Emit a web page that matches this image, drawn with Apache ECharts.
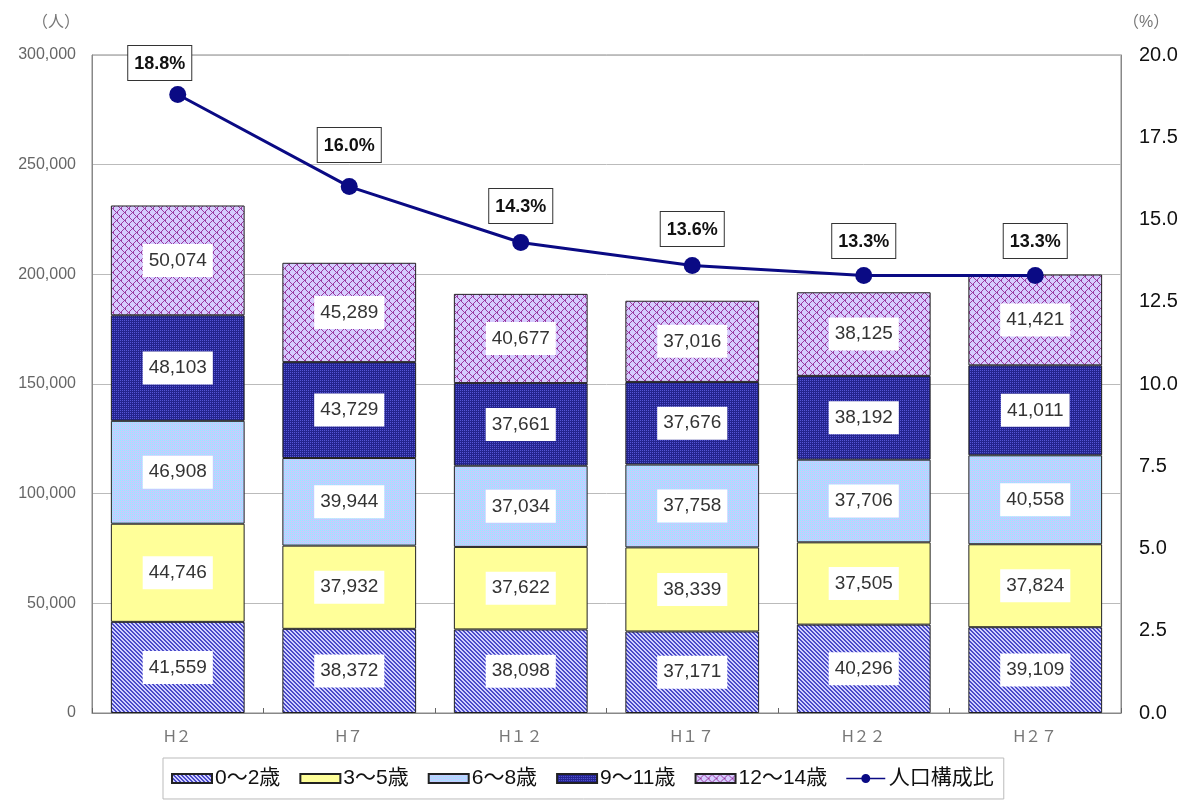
<!DOCTYPE html>
<html>
<head>
<meta charset="utf-8">
<script src="https://cdn.jsdelivr.net/npm/echarts@6/dist/echarts.min.js"></script>
<style>
  html, body { margin: 0; padding: 0; background: #fff; }
  #chart { width: 1186px; height: 805px; }
</style>
</head>
<body>
<div id="chart"></div>
<script>
const years = ['H２', 'H７', 'H１２', 'H１７', 'H２２', 'H２７'];
const age0to2 = [41559, 38372, 38098, 37171, 40296, 39109];
const age3to5 = [44746, 37932, 37622, 38339, 37505, 37824];
const age6to8 = [46908, 39944, 37034, 37758, 37706, 40558];
const age9to11 = [48103, 43729, 37661, 37676, 38192, 41011];
const age12to14 = [50074, 45289, 40677, 37016, 38125, 41421];
const ratio = [18.8, 16.0, 14.3, 13.6, 13.3, 13.3];

const FONT = "'Liberation Sans', 'Noto Sans CJK JP', sans-serif";

// small pixel patterns for the bar fills
function makePattern(size, bg, fg, test) {
  const c = document.createElement('canvas');
  c.width = size; c.height = size;
  const ctx = c.getContext('2d');
  ctx.fillStyle = bg;
  ctx.fillRect(0, 0, size, size);
  ctx.fillStyle = fg;
  for (let x = 0; x < size; x++) {
    for (let y = 0; y < size; y++) {
      if (test(x, y)) ctx.fillRect(x, y, 1, 1);
    }
  }
  return { image: c, repeat: 'repeat' };
}

const patStripe = makePattern(4, '#d0d0ff', '#4a4ac8', (x, y) => ((x - y + 8) % 4) < 2);
const patYellow = '#ffff99';
const patCyan = makePattern(4, '#c4ccff', '#94ecff', (x, y) => (x + y) % 2 === 0 && y % 2 === 0);
const patNavy = makePattern(4, '#24248e', '#5656d6', (x, y) => (x + y) % 2 === 0 && y % 2 === 0);
const patLattice = makePattern(8, '#d6ccff', '#9a3aa0', (x, y) => {
  const a = (x + y) % 8, b = (x - y + 16) % 8;
  return a === 0 || b === 0 || (a === 1 && b === 1);
});

const fmt = v => v.toLocaleString('en-US');

const barLabel = {
  show: true,
  position: 'inside',
  formatter: p => fmt(p.value),
  backgroundColor: '#fff',
  padding: [8, 6, 6, 6],
  color: '#333',
  fontSize: 19,
  fontFamily: FONT
};

function barSeries(name, data, color) {
  return {
    name: name,
    type: 'bar',
    stack: 'pop',
    data: data,
    barCategoryGap: '22%',
    itemStyle: { color: color, borderColor: '#222', borderWidth: 1 },
    label: barLabel
  };
}

// per-point nudges for the percentage boxes
const ratioLabelOffset = [[-18, 5], [0, -5], [0, 0], [0, 0], [0, 2], [0, 2]];

// legend marker for the line: a bar with a dot in the middle
const lineIcon = 'path://M0,5h52v2h-52z M32,6a6,6 0 1,1 -12,0a6,6 0 1,1 12,0z';

const chart = echarts.init(document.getElementById('chart'));

chart.setOption({
  animation: false,
  textStyle: { fontFamily: FONT },
  grid: {
    left: 92, right: 65, top: 55, bottom: 92,
    show: true, borderColor: '#888', borderWidth: 1
  },
  legend: {
    left: 163,
    top: 758,
    backgroundColor: '#fff',
    borderColor: '#bbb',
    borderWidth: 1,
    padding: [10, 10, 10, 8],
    itemWidth: 40,
    itemHeight: 9,
    itemGap: 19,
    symbolKeepAspect: true,
    textStyle: { fontSize: 21, color: '#111', fontFamily: FONT, padding: [0, 0, 0, -2] },
    data: [
      { name: '0～2歳', icon: 'rect' },
      { name: '3～5歳', icon: 'rect' },
      { name: '6～8歳', icon: 'rect' },
      { name: '9～11歳', icon: 'rect' },
      { name: '12～14歳', icon: 'rect' },
      { name: '人口構成比', icon: lineIcon }
    ]
  },
  xAxis: {
    type: 'category',
    data: years,
    axisLine: { lineStyle: { color: '#888' } },
    axisTick: { show: true, inside: true, length: 5, lineStyle: { color: '#666' } },
    axisLabel: { fontSize: 16, color: '#777', margin: 17 }
  },
  yAxis: [
    {
      type: 'value',
      min: 0, max: 300000, interval: 50000,
      name: '（人）',
      nameGap: 24,
      nameTextStyle: { fontSize: 16, color: '#777', align: 'right', padding: [0, 12, 0, 0] },
      axisLine: { show: true, lineStyle: { color: '#888' } },
      axisTick: { show: false },
      splitLine: { lineStyle: { color: '#bbb' } },
      axisLabel: { fontSize: 16, color: '#666', margin: 16, formatter: v => fmt(v) }
    },
    {
      type: 'value',
      min: 0, max: 20, interval: 2.5,
      name: '（%）',
      nameGap: 24,
      nameTextStyle: { fontSize: 16, color: '#777', align: 'left', padding: [0, 0, 0, 2] },
      axisLine: { show: true, lineStyle: { color: '#888' } },
      axisTick: { show: false },
      splitLine: { show: false },
      axisLabel: { fontSize: 20, color: '#111', margin: 18, formatter: v => v.toFixed(1) }
    }
  ],
  series: [
    barSeries('0～2歳', age0to2, patStripe),
    barSeries('3～5歳', age3to5, patYellow),
    barSeries('6～8歳', age6to8, patCyan),
    barSeries('9～11歳', age9to11, patNavy),
    barSeries('12～14歳', age12to14, patLattice),
    {
      name: '人口構成比',
      type: 'line',
      yAxisIndex: 1,
      data: ratio.map((v, i) => ({ value: v, label: { offset: ratioLabelOffset[i] } })),
      symbol: 'circle',
      symbolSize: 17,
      z: 5,
      lineStyle: { color: '#0a0a84', width: 3 },
      itemStyle: { color: '#0a0a84' },
      label: {
        show: true,
        position: 'top',
        distance: 11,
        formatter: p => p.value.toFixed(1) + '%',
        backgroundColor: '#fff',
        borderColor: '#333',
        borderWidth: 1,
        padding: [9, 6, 7, 6],
        color: '#111',
        fontWeight: 'bold',
        fontSize: 18,
        fontFamily: FONT
      }
    }
  ]
});
</script>
</body>
</html>
